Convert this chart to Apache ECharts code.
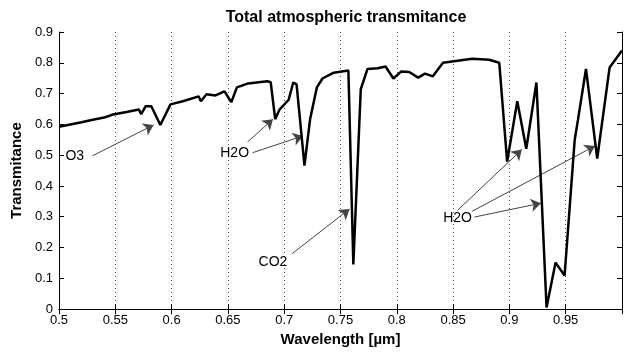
<!DOCTYPE html>
<html>
<head>
<meta charset="utf-8">
<script src="https://cdn.jsdelivr.net/npm/echarts@6/dist/echarts.min.js"></script>
<style>
html,body{margin:0;padding:0;background:#fff;}
#chart{width:625px;height:352px;}
</style>
</head>
<body>
<div id="chart"></div>
<script>
// Wavelength (µm) and total atmospheric transmitance
var wavelength = [0.5, 0.52, 0.53, 0.54, 0.548, 0.56, 0.571, 0.573, 0.577, 0.582, 0.590, 0.599, 0.61, 0.624, 0.626, 0.631, 0.639, 0.647, 0.653, 0.658, 0.668, 0.685, 0.688, 0.692, 0.696, 0.704, 0.708, 0.711, 0.718, 0.723, 0.729, 0.734, 0.744, 0.757, 0.7614, 0.768, 0.774, 0.783, 0.790, 0.797, 0.804, 0.811, 0.819, 0.825, 0.832, 0.841, 0.849, 0.867, 0.882, 0.891, 0.898, 0.907, 0.915, 0.924, 0.933, 0.941, 0.949, 0.958, 0.961, 0.968, 0.978, 0.989, 1.0];
var transmitance = [0.592, 0.607, 0.615, 0.622, 0.632, 0.640, 0.648, 0.633, 0.659, 0.659, 0.598, 0.665, 0.675, 0.691, 0.675, 0.698, 0.694, 0.707, 0.672, 0.720, 0.733, 0.740, 0.737, 0.617, 0.649, 0.680, 0.736, 0.730, 0.466, 0.617, 0.720, 0.749, 0.768, 0.775, 0.145, 0.714, 0.780, 0.782, 0.788, 0.749, 0.772, 0.770, 0.752, 0.765, 0.756, 0.800, 0.804, 0.813, 0.810, 0.800, 0.479, 0.675, 0.521, 0.736, 0.005, 0.151, 0.109, 0.550, 0.617, 0.780, 0.489, 0.785, 0.840];

var xTicks = [0.5, 0.55, 0.6, 0.65, 0.7, 0.75, 0.8, 0.85, 0.9, 0.95];
var yTicks = [0, 0.1, 0.2, 0.3, 0.4, 0.5, 0.6, 0.7, 0.8, 0.9];

// annotation labels: [text, wavelength, transmitance]
var labelNames = ['O3', 'H2O', 'CO2', 'H2O'];
var labelX = [0.514, 0.656, 0.690, 0.854];
var labelY = [0.498, 0.508, 0.151, 0.296];

// arrows: start (x,y) -> tip (x,y)
var arrowStartX = [0.5298, 0.6675, 0.672, 0.707, 0.854, 0.867, 0.869];
var arrowStartY = [0.498, 0.543, 0.508, 0.180, 0.321, 0.318, 0.299];
var arrowTipX = [0.584, 0.690, 0.7167, 0.758, 0.911, 0.976, 0.928];
var arrowTipY = [0.598, 0.617, 0.5625, 0.325, 0.518, 0.530, 0.344];

var chart = echarts.init(document.getElementById('chart'), null, {renderer: 'canvas'});

var lineData = wavelength.map(function (w, i) { return [w, transmitance[i]]; });
var arrowData = arrowStartX.map(function (x, i) {
  return [{coord: [x, arrowStartY[i]]}, {coord: [arrowTipX[i], arrowTipY[i]]}];
});
var labelData = labelNames.map(function (n, i) {
  return {coord: [labelX[i], labelY[i]], name: n, label: {formatter: n}};
});

var FONT = 'Liberation Sans, Arial, sans-serif';
var tickFont = {fontFamily: FONT, fontSize: 13, color: '#000'};

function fmtX(v) {
  var r = +v.toFixed(2);
  for (var i = 0; i < xTicks.length; i++) { if (Math.abs(xTicks[i] - r) < 1e-6) return String(xTicks[i]); }
  return '';
}
function fmtY(v) {
  var r = +v.toFixed(1);
  for (var i = 0; i < yTicks.length; i++) { if (Math.abs(yTicks[i] - r) < 1e-6) return String(yTicks[i]); }
  return '';
}

var option = {
  animation: false,
  backgroundColor: '#fff',
  title: {
    text: 'Total atmospheric transmitance',
    left: 341,
    top: 5,
    textAlign: 'center',
    textStyle: {fontFamily: FONT, fontSize: 16, fontWeight: 'bold', color: '#000'}
  },
  grid: {left: 59, right: -2, top: 32, bottom: 40, containLabel: false},
  xAxis: [{
    type: 'value', min: 0.5, max: 1, interval: 0.05,
    name: 'Wavelength [µm]', nameLocation: 'middle', nameGap: 21,
    nameTextStyle: {fontFamily: FONT, fontSize: 15, fontWeight: 'bold', color: '#000'},
    axisLine: {show: true, lineStyle: {color: '#000', width: 1}},
    axisTick: {show: true, inside: true, length: 5, lineStyle: {color: '#000'}},
    axisLabel: Object.assign({margin: 5, formatter: fmtX}, tickFont),
    splitLine: {show: true, lineStyle: {color: '#555', type: [1, 3], width: 1}}
  }, {
    type: 'value', min: 0.5, max: 1, interval: 0.05, position: 'top',
    axisLine: {show: true, lineStyle: {color: '#000', width: 1}},
    axisTick: {show: true, inside: true, length: 5, lineStyle: {color: '#000'}},
    axisLabel: {show: false}, splitLine: {show: false}
  }],
  yAxis: [{
    type: 'value', min: 0, max: 0.9, interval: 0.1,
    name: 'Transmitance', nameLocation: 'middle', nameGap: 34,
    nameTextStyle: {fontFamily: FONT, fontSize: 15, fontWeight: 'bold', color: '#000'},
    axisLine: {show: true, lineStyle: {color: '#000', width: 1}},
    axisTick: {show: true, inside: true, length: 5, lineStyle: {color: '#000'}},
    axisLabel: Object.assign({margin: 6, formatter: fmtY}, tickFont),
    splitLine: {show: false}
  }, {
    type: 'value', min: 0, max: 0.9, interval: 0.1, position: 'right',
    axisLine: {show: true, lineStyle: {color: '#000', width: 1}},
    axisTick: {show: true, inside: true, length: 5, lineStyle: {color: '#000'}},
    axisLabel: {show: false}, splitLine: {show: false}
  }],
  series: [{
    type: 'line',
    data: lineData,
    xAxisIndex: 0, yAxisIndex: 0,
    symbol: 'none',
    lineStyle: {color: '#000', width: 2.5},
    z: 5,
    markLine: {
      silent: true,
      symbol: ['none', 'arrow'],
      symbolSize: 10,
      lineStyle: {color: '#444', width: 1, type: 'solid'},
      label: {show: false},
      emphasis: {disabled: true},
      data: arrowData
    },
    markPoint: {
      silent: true,
      symbol: 'circle',
      symbolSize: 1,
      itemStyle: {color: 'rgba(0,0,0,0)'},
      label: {show: true, position: 'inside', color: '#000', fontFamily: FONT, fontSize: 14},
      data: labelData
    }
  }]
};
chart.setOption(option);
</script>
</body>
</html>
